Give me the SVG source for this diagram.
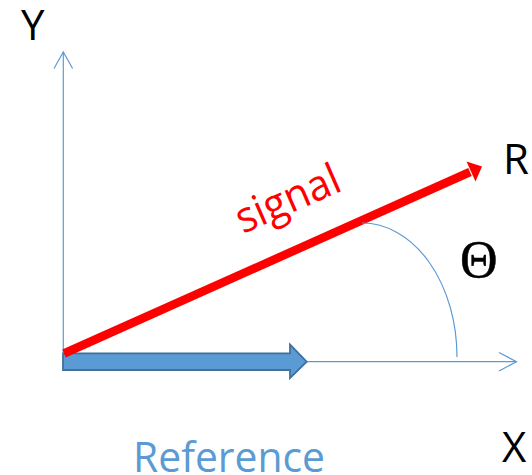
<svg xmlns="http://www.w3.org/2000/svg" width="532" height="475" viewBox="0 0 532 475">
<style>
.axis{fill:none;stroke:#5B9BD5;stroke-width:1.2}
.lbl{font-family:"Open Sans","Liberation Sans",sans-serif;font-size:42px;fill:#000}
</style>
<rect width="532" height="475" fill="#fff"/>
<g id="connectors">
<g id="y-axis">
<line class="axis" x1="63.3" y1="362" x2="63.3" y2="52"/>
<polyline class="axis" points="54,68.5 63.3,52 72.6,68.5"/>
</g>
<g id="x-axis">
<line class="axis" x1="63" y1="361.7" x2="516.5" y2="361.7"/>
<polyline class="axis" points="499,352.5 516.5,361.7 499,371"/>
</g>
<g id="reference-arrow">
<polygon points="63,353.3 290,353.3 290,344.5 306.7,361.7 290,378 290,370 63,370" fill="#5B9BD5" stroke="#41719C" stroke-width="1.8" stroke-linejoin="miter"/>
</g>
<g id="signal-arrow">
<line x1="64" y1="353.5" x2="470" y2="172" stroke="#FF0000" stroke-width="8.5"/>
<polygon points="482,166.5 466.5,161.5 475.5,181.5" fill="#FF0000"/>
</g>
<g id="angle-arc">
<path class="axis" d="M362,223 A95,134 0 0 1 457,357"/>
</g>
</g>
<g id="label-y"><text class="lbl" x="21" y="40">Y</text></g>
<g id="label-r"><text class="lbl" x="503" y="174">R</text></g>
<g id="label-x"><text class="lbl" x="502" y="462">X</text></g>
<g id="label-theta"><text x="460" y="277" font-family="'Liberation Serif','DejaVu Serif',serif" font-size="52" fill="#000" stroke="#000" stroke-width="0.5">Θ</text></g>
<g id="label-reference"><text x="133" y="472" font-family="'Open Sans','Liberation Sans',sans-serif" font-size="42" fill="#5B9BD5" textLength="192" lengthAdjust="spacingAndGlyphs">Reference</text></g>
<g id="label-signal"><text transform="translate(243,234) rotate(-23.5)" font-family="'Open Sans','Liberation Sans',sans-serif" font-size="43" fill="#FF0000" textLength="110" lengthAdjust="spacingAndGlyphs">signal</text></g>
</svg>
